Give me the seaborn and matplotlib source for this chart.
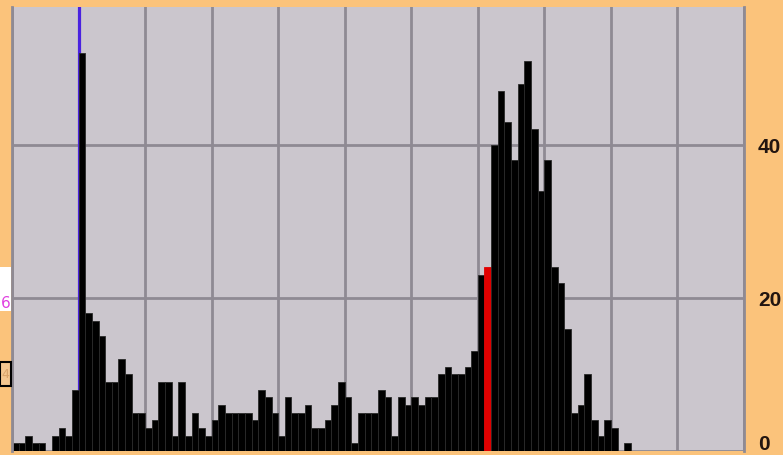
import numpy as np
import matplotlib.pyplot as plt
import matplotlib.transforms as mtransforms
import seaborn as sns
from matplotlib.patches import Rectangle

# histogram counts, one value per bin (110 bins, 10 per grid cell)
bin_index = list(range(110))
counts = [
    1, 1, 2, 1, 1, 0, 2, 3, 2, 8,
    52, 18, 17, 15, 9, 9, 12, 10, 5, 5,
    3, 4, 9, 9, 2, 9, 2, 5, 3, 2,
    4, 6, 5, 5, 5, 5, 4, 8, 7, 5,
    2, 7, 5, 5, 6, 3, 3, 4, 6, 9,
    7, 1, 5, 5, 5, 8, 7, 2, 7, 6,
    7, 6, 7, 7, 10, 11, 10, 10, 11, 13,
    23, 24, 40, 47, 43, 38, 48, 51, 42, 34,
    38, 24, 22, 16, 5, 6, 10, 4, 2, 4,
    3, 0, 1, 0, 0, 0, 0, 0, 0, 0,
    0, 0, 0, 0, 0, 0, 0, 0, 0, 0,
]
highlight_bin = 71
marker_bin = 10
y_ticks = [0, 20, 40]
y_max = 58

ORANGE = '#fbc37b'
PANEL = '#cbc6cd'
GRID = '#8f8a93'

fig = plt.figure(figsize=(7.83, 4.56), dpi=100, facecolor=ORANGE)
ax = fig.add_axes([12 / 783, 4 / 456, 732 / 783, 444 / 456])
ax.set_facecolor(PANEL)

sns.barplot(
    x=bin_index,
    y=counts,
    color='black',
    width=1,
    edgecolor='#2a2a2a',
    linewidth=0.6,
    errorbar=None,
    ax=ax
)

# highlighted bin in red
ax.patches[highlight_bin].set_facecolor('#e10000')
ax.patches[highlight_bin].set_edgecolor('#e10000')

# marker line, drawn behind the bars
ax.axvline(marker_bin - 0.5, color='#4a22e0', lw=2.3, zorder=0.8)

ax.set_xlim(-0.5, len(bin_index) - 0.5)
ax.set_ylim(0, y_max)

ax.set_xticks(np.arange(-0.5, len(bin_index), 10))
ax.set_yticks(y_ticks)
ax.set_axisbelow(True)
ax.grid(True, color=GRID, linewidth=2)

ax.yaxis.tick_right()
ax.tick_params(axis='x', length=0, labelbottom=False)
ax.tick_params(axis='y', length=0, pad=10, labelsize=15, labelcolor='#221510')
for lab in ax.get_yticklabels():
    lab.set_fontweight('bold')
    lab.set_fontfamily('Liberation Sans')

# lift the bottom "0" so it stays inside the picture
lift = mtransforms.ScaledTranslation(0, 9 / 100, fig.dpi_scale_trans)
zero_label = ax.get_yticklabels()[0]
zero_label.set_transform(zero_label.get_transform() + lift)

ax.set_xlabel('')
ax.set_ylabel('')

for side in ['top', 'bottom']:
    ax.spines[side].set_visible(False)
for side in ['left', 'right']:
    ax.spines[side].set_color(GRID)
    ax.spines[side].set_linewidth(2)

# cut-off labels at the left edge
fig.patches.append(Rectangle((0, (456 - 312) / 456), 11 / 783, 44 / 456,
                             transform=fig.transFigure, facecolor='white',
                             edgecolor='none'))
fig.text(0.5 / 783, (456 - 303) / 456, '6', color='#e040e0', fontsize=11,
         va='center', ha='left')
fig.patches.append(Rectangle((0, (456 - 387) / 456), 11 / 783, 24 / 456,
                             transform=fig.transFigure, facecolor='#f4c68f',
                             edgecolor='black', linewidth=1.5))
fig.text(1 / 783, (456 - 375) / 456, '4', color='#d9a36a', fontsize=9,
         va='center', ha='left')

fig.savefig('out.png', dpi=100, facecolor=ORANGE)
